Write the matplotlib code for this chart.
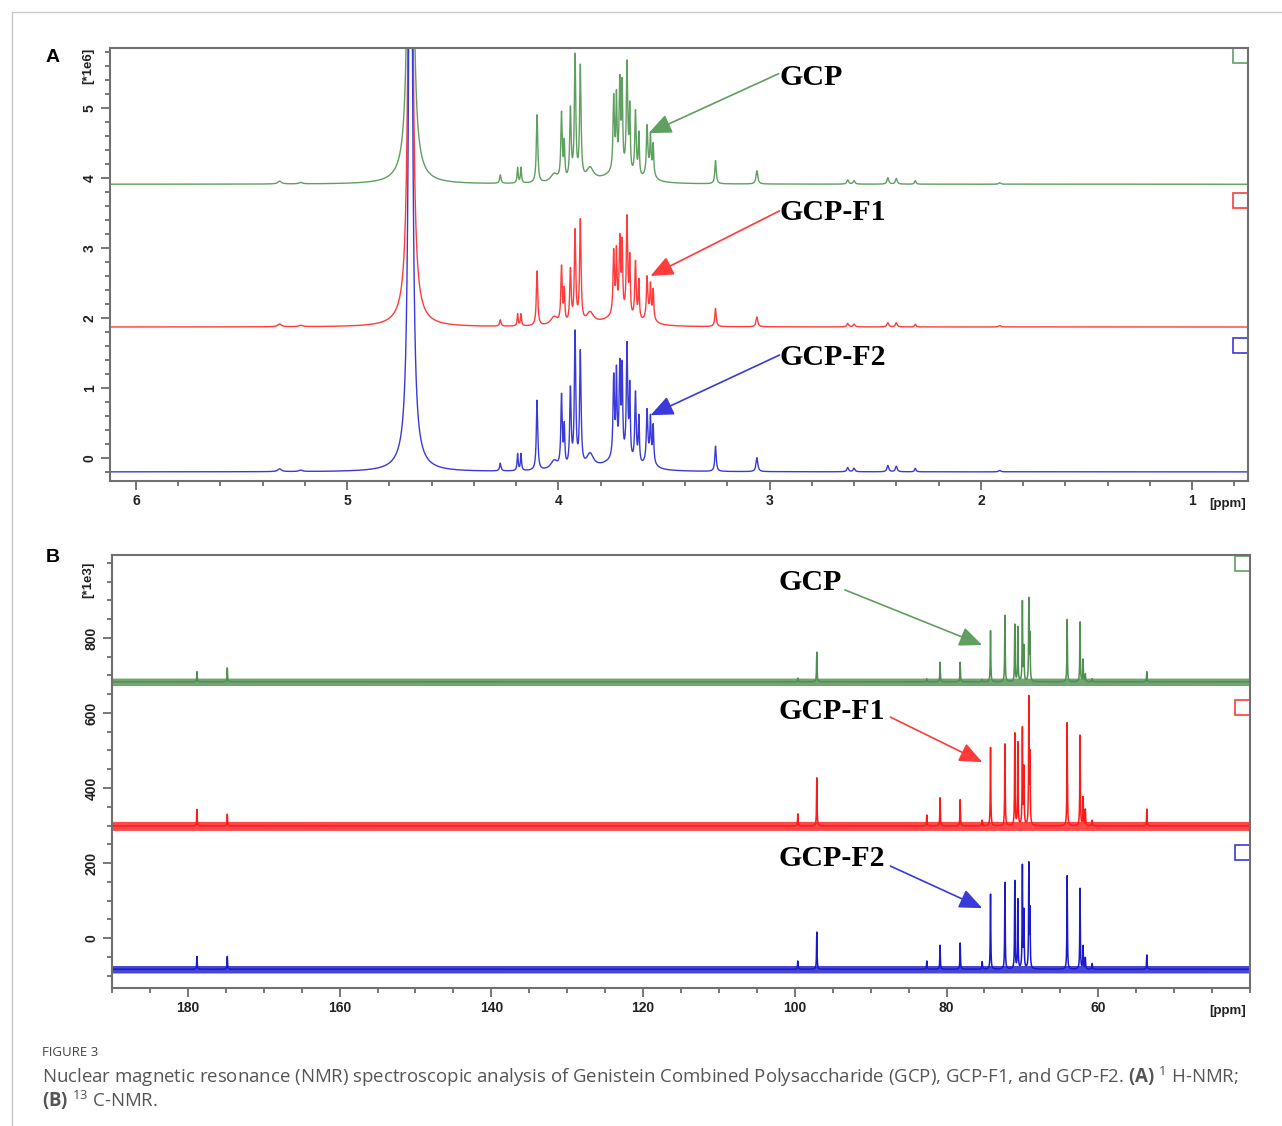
import numpy as np
import matplotlib
matplotlib.use('Agg')
import matplotlib.pyplot as plt
from matplotlib.patches import Rectangle
from matplotlib.lines import Line2D
from matplotlib.ticker import MultipleLocator, FixedLocator

plt.rcParams['font.family'] = 'Liberation Sans'
plt.rcParams['mathtext.fontset'] = 'custom'
plt.rcParams['mathtext.rm'] = 'Open Sans'
plt.rcParams['mathtext.bf'] = 'Open Sans:bold'

# ---------------- 1H NMR peak table (ppm, shared by the 3 samples) ----------------
h_shift = [4.700, 4.700, 5.320, 5.220, 4.275, 4.193, 4.177, 4.101, 4.020, 3.985, 3.972,
           3.943, 3.921, 3.896, 3.850, 3.720, 3.738, 3.725, 3.709, 3.698, 3.675, 3.662,
           3.635, 3.619, 3.580, 3.564, 3.551, 3.565, 3.256, 3.060, 2.630, 2.600, 2.440,
           2.400, 2.310, 1.910]
h_width = [0.009, 0.060, 0.010, 0.010, 0.004, 0.003, 0.003, 0.004, 0.020, 0.004, 0.003,
           0.004, 0.004, 0.004, 0.020, 0.080, 0.004, 0.003, 0.004, 0.003, 0.004, 0.003,
           0.004, 0.003, 0.004, 0.003, 0.003, 0.020, 0.004, 0.005, 0.005, 0.005, 0.005,
           0.005, 0.004, 0.006]
gcp_h = [12, 0.12, 0.04, 0.02, 0.12, 0.22, 0.22, 0.97, 0.12, 0.95, 0.50,
         1.00, 1.75, 1.60, 0.18, 0.15, 1.05, 1.00, 1.25, 1.15, 1.55, 0.90,
         0.92, 0.60, 0.68, 0.48, 0.42, 0.15, 0.33, 0.19, 0.06, 0.05, 0.09,
         0.08, 0.05, 0.02]
f1_h = [12, 0.12, 0.04, 0.02, 0.09, 0.17, 0.17, 0.78, 0.12, 0.80, 0.45,
        0.75, 1.30, 1.45, 0.16, 0.14, 0.90, 0.85, 1.05, 0.95, 1.40, 0.80,
        0.82, 0.55, 0.58, 0.42, 0.40, 0.13, 0.26, 0.14, 0.05, 0.04, 0.06,
        0.06, 0.04, 0.02]
f2_h = [12, 0.12, 0.04, 0.02, 0.11, 0.24, 0.24, 1.00, 0.13, 1.02, 0.55,
        1.10, 1.90, 1.62, 0.20, 0.16, 1.15, 1.15, 1.28, 1.20, 1.62, 1.00,
        1.00, 0.65, 0.72, 0.55, 0.50, 0.16, 0.36, 0.20, 0.06, 0.05, 0.09,
        0.08, 0.05, 0.02]
h_base = [3.91, 1.87, -0.20]          # vertical offsets of the stacked spectra (*1e6)

# ---------------- 13C NMR peak table ----------------
c_shift = [178.8, 174.8, 99.6, 97.1, 82.6, 80.85, 78.2, 75.3, 74.2, 72.3, 71.0,
           70.6, 70.0, 69.8, 69.15, 69.0, 64.1, 62.4, 62.0, 61.7, 60.8, 53.6]
gcp_c = [27, 37, 10, 79, 8, 52, 52, 6, 136, 177, 152,
         145, 212, 90, 216, 120, 166, 159, 59, 20, 8, 27]
f1_c = [44, 31, 32, 128, 29, 75, 70, 15, 209, 218, 245,
        220, 256, 150, 334, 180, 275, 241, 75, 43, 15, 45]
f2_c = [34, 34, 22, 99, 22, 64, 70, 20, 200, 231, 234,
        184, 272, 150, 275, 150, 249, 215, 61, 30, 15, 38]
c_base = [683, 299, -83]               # vertical offsets (*1e3)
c_noise = [10, 12, 10]                 # half thickness of the noise band

names = ['GCP', 'GCP-F1', 'GCP-F2']
h_cols = ['#5f9f5f', '#ff3b3b', '#3a3ad8']
c_cols = ['#4f8f4f', '#ff1a1a', '#1a1acc']


def spectrum(x, shifts, heights, widths):
    y = np.zeros_like(x)
    for s, h, w in zip(shifts, heights, widths):
        y += h * w**2 / ((x - s)**2 + w**2)
    return y


W, H = 1282, 1126
fig = plt.figure(figsize=(W / 100, H / 100), dpi=100)


def px_rect(l, t, r, b):
    return [l / W, 1 - b / H, (r - l) / W, (b - t) / H]


axA = fig.add_axes(px_rect(110, 48, 1248, 481))
axB = fig.add_axes(px_rect(112, 555, 1250, 988))

# ---- panel A ----
ppm_h = np.arange(0.70, 6.20, 0.0005)
for hh, base, col in zip([gcp_h, f1_h, f2_h], h_base, h_cols):
    axA.plot(ppm_h, base + spectrum(ppm_h, h_shift, hh, h_width), color=col, lw=1.0)
axA.set_xlim(6.123, 0.735)
axA.set_ylim(-0.33, 5.857)
axA.xaxis.set_major_locator(FixedLocator([1, 2, 3, 4, 5, 6]))
axA.xaxis.set_minor_locator(MultipleLocator(0.2))
axA.yaxis.set_major_locator(FixedLocator([0, 1, 2, 3, 4, 5]))
axA.yaxis.set_minor_locator(MultipleLocator(0.2))

# ---- panel B ----
ppm_c = np.arange(40, 190.01, 0.01)
c_w = [0.04] * len(c_shift)
for cc, base, nz, col in zip([gcp_c, f1_c, f2_c], c_base, c_noise, c_cols):
    axB.fill_between(ppm_c, base - nz, base + nz, color=col, lw=0, alpha=0.8)
    axB.plot(ppm_c, base + spectrum(ppm_c, c_shift, cc, c_w), color=col, lw=1.1)
axB.set_xlim(190, 40)
axB.set_ylim(-133, 1021)
axB.xaxis.set_major_locator(FixedLocator([60, 80, 100, 120, 140, 160, 180]))
axB.xaxis.set_minor_locator(MultipleLocator(5))
axB.yaxis.set_major_locator(FixedLocator([0, 200, 400, 600, 800]))
axB.yaxis.set_minor_locator(MultipleLocator(50))

for ax in (axA, axB):
    for sp in ax.spines.values():
        sp.set_color('#707070')
        sp.set_linewidth(1.5)
    ax.tick_params(which='both', direction='out', color='#606060', width=1.2,
                   labelsize=10, pad=3, top=False, right=False)
    ax.tick_params(which='major', length=6.5)
    ax.tick_params(which='minor', length=3.8)
    ax.tick_params(axis='y', labelrotation=90)
    for lab in ax.get_xticklabels() + ax.get_yticklabels():
        lab.set_fontweight('bold')
        lab.set_color('#222222')
    for lab in ax.get_yticklabels():
        lab.set_va('center')

# little coloured squares at the right edge (one per trace)
for ax, tops, top_ax, x0 in ((axA, [48, 193, 338], 48, 110), (axB, [556, 700, 845], 555, 112)):
    for t, col in zip(tops, h_cols):
        ax.add_patch(Rectangle(((x0 + 1123 - x0) / 1138, 1 - (t - top_ax + 15) / 433), 15 / 1138, 15 / 433,
                               transform=ax.transAxes, fill=False, ec=col, lw=1.2, clip_on=False))

# axis unit labels
unit_kw = dict(rotation=90, ha='center', va='center', fontsize=9.5, fontweight='bold', color='#222222')
fig.text(88 / W, 1 - 66 / H, '[*1e6]', **unit_kw)
fig.text(88 / W, 1 - 580 / H, '[*1e3]', **unit_kw)
fig.text(1228 / W, 1 - 504 / H, '[ppm]', ha='center', va='center', fontsize=9.5, fontweight='bold', color='#222222')
fig.text(1228 / W, 1 - 1011 / H, '[ppm]', ha='center', va='center', fontsize=9.5, fontweight='bold', color='#222222')

# sample labels with arrows
lab_font = dict(fontfamily='Liberation Serif', fontweight='bold', fontsize=21.5, ha='left', va='center')
arrow_kw = dict(arrowstyle='-|>,head_length=0.7,head_width=0.3', mutation_scale=20, lw=1.2,
                shrinkA=0, shrinkB=0)
a_text = [(2.953, 5.44), (2.953, 3.50), (2.953, 1.44)]
a_from = [(2.957, 5.49), (2.953, 3.53), (2.953, 1.47)]
a_tip = [(3.573, 4.64), (3.564, 2.60), (3.564, 0.61)]
for n, tp, fr, tip, col in zip(names, a_text, a_from, a_tip, h_cols):
    axA.text(tp[0], tp[1], n, **lab_font)
    axA.annotate('', xy=tip, xytext=fr, arrowprops=dict(color=col, **arrow_kw))

b_text = [(102.1, 949), (102.1, 603), (102.1, 213)]
b_from = [(93.4, 928), (87.4, 589), (87.4, 192)]
b_tip = [(75.3, 781), (75.3, 469), (75.3, 80)]
for n, tp, fr, tip, col in zip(names, b_text, b_from, b_tip, h_cols):
    axB.text(tp[0], tp[1], n, **lab_font)
    axB.annotate('', xy=tip, xytext=fr, arrowprops=dict(color=col, **arrow_kw))

# panel letters
fig.text(53 / W, 1 - 58 / H, 'A', ha='center', va='center', fontsize=14, fontweight='bold')
fig.text(53 / W, 1 - 558 / H, 'B', ha='center', va='center', fontsize=14, fontweight='bold')

# caption
fig.text(42 / W, 1 - 1052 / H, 'FIGURE 3', ha='left', va='center', fontsize=9.5,
         fontfamily='Open Sans', color='#444444')
fig.text(42 / W, 1 - 1077 / H,
         'Nuclear magnetic resonance (NMR) spectroscopic analysis of Genistein Combined '
         'Polysaccharide (GCP), GCP-F1, and GCP-F2. $\\mathbf{(A)}$ $^{1}$ H-NMR;',
         ha='left', va='center', fontsize=13.4, fontfamily='Open Sans', color='#555555')
fig.text(42 / W, 1 - 1100 / H, '$\\mathbf{(B)}$ $^{13}$ C-NMR.',
         ha='left', va='center', fontsize=13.4, fontfamily='Open Sans', color='#555555')

# page frame
fig.add_artist(Line2D([12 / W, 1], [1 - 12 / H] * 2, color='#c8c8c8', lw=1))
fig.add_artist(Line2D([12 / W] * 2, [0, 1 - 12 / H], color='#c8c8c8', lw=1))

fig.savefig('out.png', dpi=100)
